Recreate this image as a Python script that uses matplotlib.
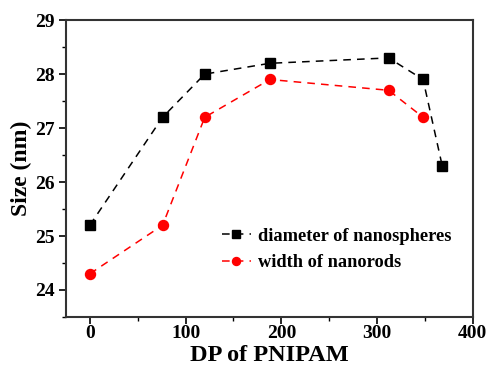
import matplotlib
matplotlib.use('Agg')
import matplotlib.pyplot as plt
from matplotlib.ticker import MultipleLocator

plt.rcParams['font.family'] = 'Liberation Serif'
plt.rcParams['font.weight'] = 'bold'

# data
dp_spheres = [0, 76, 120, 188, 312, 348, 368]
diameter = [25.2, 27.2, 28.0, 28.2, 28.3, 27.9, 26.3]
dp_rods = [0, 76, 120, 188, 312, 348]
width = [24.3, 25.2, 27.2, 27.9, 27.7, 27.2]

fig = plt.figure(figsize=(4.88, 3.66), dpi=100)
ax = fig.add_axes([0.135, 0.134, 0.834, 0.811])

ax.plot(dp_spheres, diameter, ls=(0, (5, 4)), lw=1.1, color='black',
        marker='s', ms=6.5, label='diameter of nanospheres')
ax.plot(dp_rods, width, ls=(0, (5, 4)), lw=1.1, color='red',
        marker='o', ms=7.2, label='width of nanorods')

ax.set_xlim(-25, 400)
ax.set_ylim(23.5, 29)
ax.xaxis.set_major_locator(MultipleLocator(100))
ax.xaxis.set_minor_locator(MultipleLocator(50))
ax.yaxis.set_major_locator(MultipleLocator(1))
ax.yaxis.set_minor_locator(MultipleLocator(0.5))
ax.tick_params(which='major', direction='out', length=5, width=1.2,
               labelsize=14, pad=3)
ax.tick_params(axis='x', pad=1)
ax.tick_params(which='minor', direction='out', length=3, width=1.0)
for s in ax.spines.values():
    s.set_linewidth(1.5)
    s.set_color('#333333')

ax.set_xlabel('DP of PNIPAM', fontsize=17.5, fontweight='bold', labelpad=2)
ax.set_ylabel('Size (nm)', fontsize=17, fontweight='bold', labelpad=2)

ax.legend(loc='upper left', bbox_to_anchor=(0.383, 0.30), frameon=False,
          borderaxespad=0, borderpad=0, fontsize=13.2, markerscale=0.8,
          handlelength=1.6, handletextpad=0.4, labelspacing=0.5)

fig.savefig('out.png', dpi=100)
